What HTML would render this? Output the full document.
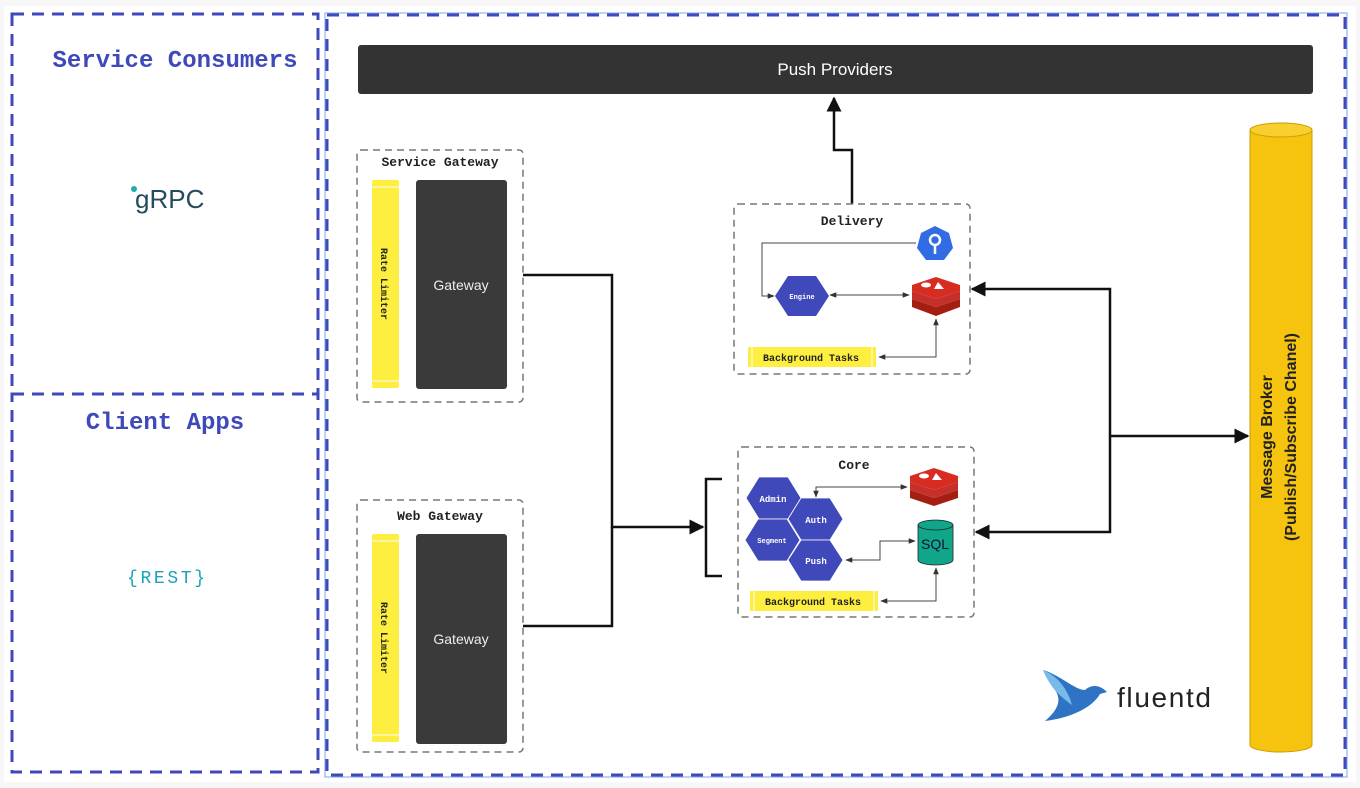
<!DOCTYPE html>
<html><head><meta charset="utf-8"><style>
html,body{margin:0;padding:0;background:#fff;}
svg{display:block;}
text{font-family:"Liberation Mono",monospace;}
.sans{font-family:"Liberation Sans",sans-serif;}
</style></head><body>
<svg width="1360" height="788" viewBox="0 0 1360 788" xmlns="http://www.w3.org/2000/svg">
<defs>
<marker id="ah" viewBox="0 0 10 10" refX="9" refY="5" markerWidth="6" markerHeight="6" orient="auto-start-reverse"><path d="M0,0 L10,5 L0,10 z" fill="#111"/></marker>
<marker id="as" viewBox="0 0 10 10" refX="9" refY="5" markerWidth="7" markerHeight="7" orient="auto-start-reverse"><path d="M0,1 L10,5 L0,9 z" fill="#333"/></marker>
</defs>
<rect width="1360" height="788" fill="#f7f7f7"/>
<rect x="4" y="6" width="1352" height="776" fill="#fff"/>
<rect x="12" y="14" width="306" height="380" fill="#fff" stroke="#4049b9" stroke-width="3" stroke-dasharray="12,8"/>
<rect x="12" y="394" width="306" height="378" fill="#fff" stroke="#4049b9" stroke-width="3" stroke-dasharray="12,8"/>
<text x="175" y="67" text-anchor="middle" font-size="24" font-weight="bold" fill="#4049b9" textLength="245">Service Consumers</text>
<text x="165" y="429" text-anchor="middle" font-size="24" font-weight="bold" fill="#4049b9">Client Apps</text>
<text x="135" y="208" class="sans" font-size="26" fill="#244c5a">gRPC</text>
<circle cx="134" cy="189" r="3" fill="#1cb0a8"/>
<text x="166" y="583" text-anchor="middle" font-size="18" fill="#1aa3b8" textLength="78">{REST}</text>
<rect x="327" y="15" width="1018" height="760" fill="#fff" stroke="#4049b9" stroke-width="3" stroke-dasharray="12,8"/>
<rect x="325" y="13" width="1022" height="764" fill="none" stroke="#7aa3f0" stroke-width="1"/>
<rect x="358" y="45" width="955" height="49" rx="3" fill="#333"/>
<text x="835" y="75" class="sans" text-anchor="middle" font-size="17" fill="#fff">Push Providers</text>
<g>
<rect x="357" y="150" width="166" height="252" rx="4" fill="none" stroke="#777" stroke-width="1.5" stroke-dasharray="7,5"/>
<text x="440" y="166" text-anchor="middle" font-size="13" font-weight="bold" fill="#222">Service Gateway</text>
<rect x="372" y="180" width="27" height="208" rx="2" fill="#fdee3f"/>
<line x1="372" y1="187" x2="399" y2="187" stroke="#fff"/><line x1="372" y1="381" x2="399" y2="381" stroke="#fff"/>
<text transform="translate(381,284) rotate(90)" text-anchor="middle" font-size="10" font-weight="bold" fill="#222">Rate Limiter</text>
<rect x="416" y="180" width="91" height="209" rx="3" fill="#3a3a3a"/>
<text x="461" y="290" class="sans" text-anchor="middle" font-size="14" fill="#eee">Gateway</text>
</g>
<g>
<rect x="357" y="500" width="166" height="252" rx="4" fill="none" stroke="#777" stroke-width="1.5" stroke-dasharray="7,5"/>
<text x="440" y="520" text-anchor="middle" font-size="13" font-weight="bold" fill="#222">Web Gateway</text>
<rect x="372" y="534" width="27" height="208" rx="2" fill="#fdee3f"/>
<line x1="372" y1="541" x2="399" y2="541" stroke="#fff"/><line x1="372" y1="735" x2="399" y2="735" stroke="#fff"/>
<text transform="translate(381,638) rotate(90)" text-anchor="middle" font-size="10" font-weight="bold" fill="#222">Rate Limiter</text>
<rect x="416" y="534" width="91" height="210" rx="3" fill="#3a3a3a"/>
<text x="461" y="644" class="sans" text-anchor="middle" font-size="14" fill="#eee">Gateway</text>
</g>
<path d="M523,275 H612 V527 H703" fill="none" stroke="#111" stroke-width="2.5" marker-end="url(#ah)"/>
<path d="M523,626 H612 V527" fill="none" stroke="#111" stroke-width="2.5"/>
<path d="M722,479 H706 V576 H722" fill="none" stroke="#111" stroke-width="2.5"/>
<path d="M852,204 V150 H834 V98" fill="none" stroke="#111" stroke-width="2.5" marker-end="url(#ah)"/>
<path d="M1110,436 H1248" fill="none" stroke="#111" stroke-width="2.5" marker-end="url(#ah)"/>
<path d="M1110,436 V289 H972" fill="none" stroke="#111" stroke-width="2.5" marker-end="url(#ah)"/>
<path d="M1110,436 V532 H976" fill="none" stroke="#111" stroke-width="2.5" marker-end="url(#ah)"/>
<rect x="734" y="204" width="236" height="170" rx="4" fill="#fff" stroke="#777" stroke-width="1.5" stroke-dasharray="7,5"/>
<text x="852" y="225" text-anchor="middle" font-size="13" font-weight="bold" fill="#222">Delivery</text>
<path d="M916,243 H762 V296 H774" fill="none" stroke="#444" stroke-width="1" marker-end="url(#as)"/>
<polygon points="935,226 949,233 953,248 944,260 926,260 917,248 921,233" fill="#326ce5"/>
<circle cx="935" cy="240" r="5" fill="none" stroke="#fff" stroke-width="2.5"/><line x1="935" y1="245" x2="935" y2="254" stroke="#fff" stroke-width="2.5"/>
<polygon points="775,296 788,276 816,276 829,296 816,316 788,316" fill="#4049b9"/>
<text x="802" y="299" text-anchor="middle" font-size="7" font-weight="bold" fill="#fff">Engine</text>
<path d="M830,295 H909" fill="none" stroke="#444" stroke-width="1" marker-start="url(#as)" marker-end="url(#as)"/>
<g transform="translate(912,277)">
<path d="M0,22 L24,30 L48,22 V30 L24,39 L0,30z" fill="#a41e11"/>
<path d="M0,14 L24,22 L48,14 V22 L24,30 L0,22z" fill="#c6302b"/>
<path d="M0,8 L24,0 L48,8 V14 L24,22 L0,14z" fill="#d82c20"/>
<ellipse cx="14" cy="8" rx="5" ry="2.5" fill="#fff"/><path d="M26,5 L32,12 L22,12z" fill="#fff"/>
</g>
<rect x="748" y="347" width="128" height="20" fill="#fdee3f"/>
<line x1="752" y1="347" x2="752" y2="367" stroke="#fff"/><line x1="872" y1="347" x2="872" y2="367" stroke="#fff"/>
<text x="811" y="361" text-anchor="middle" font-size="10" font-weight="bold" fill="#222">Background Tasks</text>
<path d="M879,357 H936 V319" fill="none" stroke="#444" stroke-width="1" marker-start="url(#as)" marker-end="url(#as)"/>
<rect x="738" y="447" width="236" height="170" rx="4" fill="#fff" stroke="#777" stroke-width="1.5" stroke-dasharray="7,5"/>
<text x="854" y="469" text-anchor="middle" font-size="13" font-weight="bold" fill="#222">Core</text>
<g fill="#4049b9" stroke="#fff" stroke-width="0.8">
<polygon points="746,498 759,477 788,477 801,498 788,519 759,519"/>
<polygon points="745,540 758,519 787,519 800,540 787,561 758,561"/>
<polygon points="788,519 801,498 830,498 843,519 830,540 801,540"/>
<polygon points="788,560 801,540 830,540 843,560 830,581 801,581"/>
</g>
<g font-weight="bold" fill="#fff" text-anchor="middle">
<text x="773" y="502" font-size="9">Admin</text>
<text x="816" y="523" font-size="9">Auth</text>
<text x="772" y="543" font-size="7">Segment</text>
<text x="816" y="564" font-size="9">Push</text>
</g>
<path d="M816,497 V487 H907" fill="none" stroke="#444" stroke-width="1" marker-start="url(#as)" marker-end="url(#as)"/>
<g transform="translate(910,468)">
<path d="M0,22 L24,30 L48,22 V30 L24,38 L0,30z" fill="#a41e11"/>
<path d="M0,14 L24,22 L48,14 V22 L24,30 L0,22z" fill="#c6302b"/>
<path d="M0,8 L24,0 L48,8 V14 L24,22 L0,14z" fill="#d82c20"/>
<ellipse cx="14" cy="8" rx="5" ry="2.5" fill="#fff"/><path d="M26,5 L32,12 L22,12z" fill="#fff"/>
</g>
<path d="M918,525 V560 A17.5,5 0 0 0 953,560 V525" fill="#0fa68a" stroke="#222" stroke-width="0.8"/>
<ellipse cx="935.5" cy="525" rx="17.5" ry="5" fill="#0fa68a" stroke="#222" stroke-width="0.8"/>
<text x="935" y="549" class="sans" text-anchor="middle" font-size="14" fill="#113">SQL</text>
<path d="M846,560 H880 V541 H915" fill="none" stroke="#444" stroke-width="1" marker-start="url(#as)" marker-end="url(#as)"/>
<rect x="750" y="591" width="128" height="20" fill="#fdee3f"/>
<line x1="754" y1="591" x2="754" y2="611" stroke="#fff"/><line x1="874" y1="591" x2="874" y2="611" stroke="#fff"/>
<text x="813" y="605" text-anchor="middle" font-size="10" font-weight="bold" fill="#222">Background Tasks</text>
<path d="M881,601 H936 V568" fill="none" stroke="#444" stroke-width="1" marker-start="url(#as)" marker-end="url(#as)"/>
<path d="M1250,130 V745 A31,7 0 0 0 1312,745 V130" fill="#f6c40f" stroke="#c99d00" stroke-width="1"/>
<ellipse cx="1281" cy="130" rx="31" ry="7" fill="#f8cf2e" stroke="#c99d00" stroke-width="1"/>
<text transform="translate(1272,437) rotate(-90)" class="sans" text-anchor="middle" font-size="16" font-weight="bold" fill="#222">Message Broker</text>
<text transform="translate(1296,437) rotate(-90)" class="sans" text-anchor="middle" font-size="16" font-weight="bold" fill="#222">(Publish/Subscribe Chanel)</text>
<path d="M1043,670 C1060,675 1075,690 1085,690 C1092,684 1100,685 1107,692 L1100,694 C1092,708 1070,718 1045,721 C1058,710 1062,700 1055,690 C1050,684 1046,677 1043,670z" fill="#2f73c4"/>
<path d="M1043,670 C1058,676 1068,690 1072,705 C1065,700 1058,694 1055,690 C1050,684 1046,677 1043,670z" fill="#79bbe8"/>
<text x="1117" y="707" class="sans" font-size="28" fill="#222" textLength="94">fluentd</text>
</svg>
</body></html>
